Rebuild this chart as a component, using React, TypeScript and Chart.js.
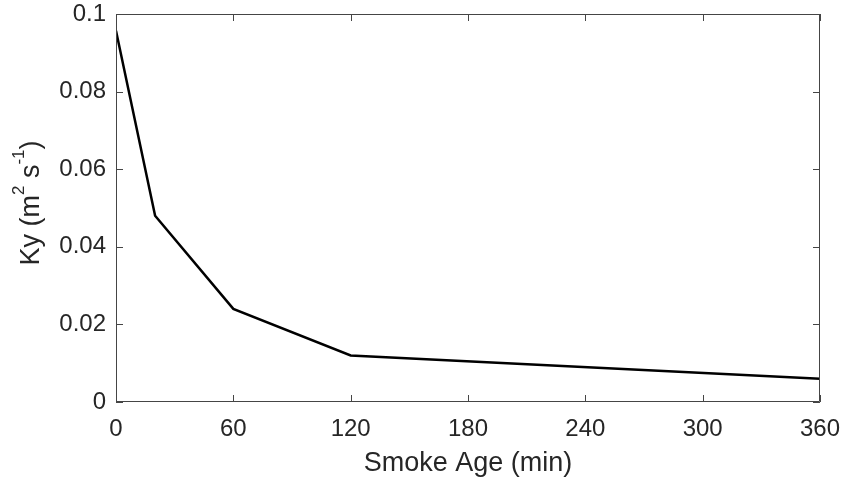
import { useEffect, useRef } from "react";
import { Chart, registerables } from "chart.js";

Chart.register(...registerables);

// Smoke age (minutes) and the matching Ky diffusivity (m^2 s^-1)
const smokeAgeMin = [0, 20, 60, 120, 360];
const kyValues = [0.0957, 0.048, 0.024, 0.012, 0.006];

const xTicks = [0, 60, 120, 180, 240, 300, 360];
const yTicks = [0, 0.02, 0.04, 0.06, 0.08, 0.1];

const FONT = "'Liberation Sans', Arial, Helvetica, sans-serif";
const TEXT = "#262626";
const AXIS = "#454545";
const TICK_LEN = 7;

// Box around the plot with inward ticks on all four sides, plus axis titles
const framePlugin = {
  id: "frame",
  afterDatasetsDraw(chart: any) {
    const { ctx, chartArea: a, scales } = chart;
    const xs = scales.x;
    const ys = scales.y;
    ctx.save();
    ctx.strokeStyle = AXIS;
    ctx.lineWidth = 1;
    ctx.beginPath();
    ctx.rect(a.left + 0.5, a.top + 0.5, a.right - a.left - 1, a.bottom - a.top - 1);
    ctx.stroke();

    ctx.beginPath();
    for (const v of xTicks) {
      const px = Math.round(xs.getPixelForValue(v)) + 0.5;
      ctx.moveTo(px, a.bottom);
      ctx.lineTo(px, a.bottom - TICK_LEN);
      ctx.moveTo(px, a.top);
      ctx.lineTo(px, a.top + TICK_LEN);
    }
    for (const v of yTicks) {
      const py = Math.round(ys.getPixelForValue(v)) + 0.5;
      ctx.moveTo(a.left, py);
      ctx.lineTo(a.left + TICK_LEN, py);
      ctx.moveTo(a.right, py);
      ctx.lineTo(a.right - TICK_LEN, py);
    }
    ctx.stroke();

    // x-axis title
    ctx.fillStyle = TEXT;
    ctx.font = `27px ${FONT}`;
    ctx.textAlign = "center";
    ctx.textBaseline = "alphabetic";
    ctx.fillText("Smoke Age (min)", (a.left + a.right) / 2, 471);

    // y-axis title with superscripts: Ky (m^2 s^-1)
    const parts: [string, boolean][] = [
      ["Ky (m", false],
      ["2", true],
      [" s", false],
      ["-1", true],
      [")", false],
    ];
    const mainFont = `27px ${FONT}`;
    const supFont = `17px ${FONT}`;
    let total = 0;
    const widths = parts.map(([t, sup]) => {
      ctx.font = sup ? supFont : mainFont;
      const w = ctx.measureText(t).width;
      total += w;
      return w;
    });
    ctx.translate(39, 203);
    ctx.rotate(-Math.PI / 2);
    ctx.textAlign = "left";
    let x = -total / 2;
    parts.forEach(([t, sup], i) => {
      ctx.font = sup ? supFont : mainFont;
      ctx.fillText(t, x, sup ? -15 : 0);
      x += widths[i];
    });
    ctx.restore();
  },
};

export default function App() {
  const canvasRef = useRef<HTMLCanvasElement | null>(null);

  useEffect(() => {
    if (!canvasRef.current) return;
    const chart = new Chart(canvasRef.current, {
      type: "line",
      data: {
        datasets: [
          {
            data: smokeAgeMin.map((x, i) => ({ x, y: kyValues[i] })),
            borderColor: "#000000",
            borderWidth: 2.5,
            pointRadius: 0,
            tension: 0,
            fill: false,
          },
        ],
      },
      options: {
        responsive: false,
        animation: false,
        events: [],
        layout: { padding: { left: 0, top: 14, right: 23, bottom: 0 } },
        plugins: {
          legend: { display: false },
          tooltip: { enabled: false },
        },
        scales: {
          x: {
            type: "linear",
            min: 0,
            max: 360,
            grid: { display: false, drawTicks: false },
            border: { display: false },
            afterBuildTicks: (s: any) => {
              s.ticks = xTicks.map((value) => ({ value }));
            },
            afterFit: (s: any) => {
              s.height = 81;
              s.paddingLeft = 0;
              s.paddingRight = 0;
            },
            ticks: {
              color: TEXT,
              font: { family: FONT, size: 24 },
              padding: 13,
              maxRotation: 0,
              autoSkip: false,
              callback: (v: any) => String(v),
            },
          },
          y: {
            type: "linear",
            min: 0,
            max: 0.1,
            grid: { display: false, drawTicks: false },
            border: { display: false },
            afterBuildTicks: (s: any) => {
              s.ticks = yTicks.map((value) => ({ value }));
            },
            afterFit: (s: any) => {
              s.width = 116;
              s.paddingTop = 0;
              s.paddingBottom = 0;
            },
            ticks: {
              color: TEXT,
              font: { family: FONT, size: 24 },
              padding: 10,
              autoSkip: false,
              callback: (v: any) => String(Number(Number(v).toFixed(2))),
            },
          },
        },
      },
      plugins: [framePlugin],
    });
    return () => chart.destroy();
  }, []);

  return (
    <div style={{ position: "absolute", left: 0, top: 0, width: 843, height: 483, background: "#ffffff" }}>
      <canvas ref={canvasRef} width={843} height={483} style={{ display: "block" }} />
    </div>
  );
}
